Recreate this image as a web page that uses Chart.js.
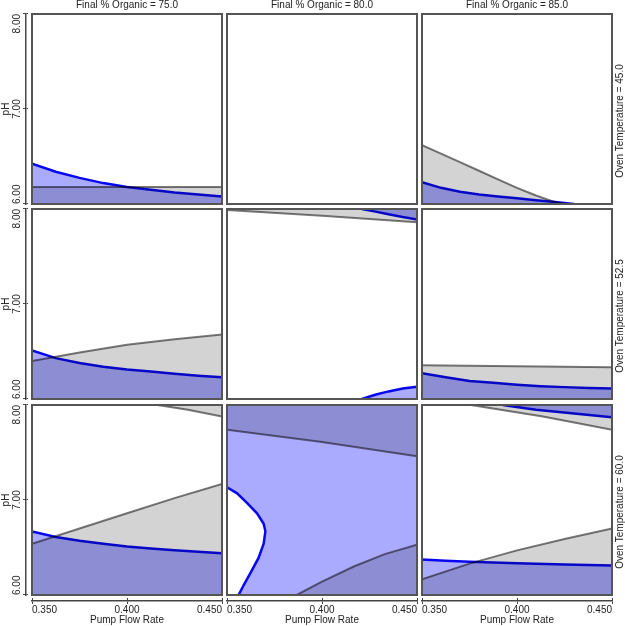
<!DOCTYPE html>
<html><head><meta charset="utf-8">
<script src="https://cdn.jsdelivr.net/npm/chart.js@4.4.1/dist/chart.umd.min.js"></script>
<style>
html,body{margin:0;padding:0;background:#fff;}
#root{position:relative;width:625px;height:626px;overflow:hidden;font-family:"Liberation Sans",Arial,sans-serif;background:#fff;}
canvas{display:block;position:absolute;}
.frame{position:absolute;box-sizing:border-box;border:2px solid #555;pointer-events:none;}
.strip{position:absolute;font-size:10px;line-height:12px;color:#222;text-align:center;white-space:nowrap;}
</style></head><body><div id="root"></div>
<script>
// ---------- facet levels, ticks, titles ----------
const organicLevels = ['75.0', '80.0', '85.0'];
const ovenTemps = ['45.0', '52.5', '60.0'];
const xTickValues = [0.35, 0.40, 0.45];
const xTickLabels = ['0.350', '0.400', '0.450'];
const yTickValues = [6, 7, 8];
const yTickLabels = ['6.00', '7.00', '8.00'];
const xTitle = 'Pump Flow Rate';
const yTitle = 'pH';
const xRange = [0.35, 0.45];
const yRange = [6, 8];

// ---------- contour boundaries [pump flow rate, pH] ----------
// Oven 45.0
const t45o75Gray = [[0.35, 6.18], [0.45, 6.18]];
const t45o75Blue = [[0.35, 6.425], [0.3625, 6.34], [0.375, 6.275], [0.3875, 6.22], [0.40, 6.18], [0.4125, 6.15], [0.425, 6.12], [0.4375, 6.10], [0.45, 6.08]];
const t45o85Gray = [[0.35, 6.62], [0.36, 6.53], [0.37, 6.44], [0.38, 6.35], [0.39, 6.26], [0.40, 6.17], [0.41, 6.09], [0.42, 6.02], [0.425, 6.0]];
const t45o85Blue = [[0.35, 6.23], [0.36, 6.17], [0.37, 6.13], [0.38, 6.10], [0.39, 6.08], [0.40, 6.06], [0.41, 6.04], [0.42, 6.02], [0.43, 6.0]];
// Oven 52.5
const t52o75Gray = [[0.35, 6.40], [0.375, 6.49], [0.40, 6.57], [0.425, 6.63], [0.45, 6.68]];
const t52o75Blue = [[0.35, 6.51], [0.3625, 6.43], [0.375, 6.38], [0.3875, 6.34], [0.40, 6.31], [0.4125, 6.29], [0.425, 6.265], [0.4375, 6.245], [0.45, 6.23]];
const t52o80GrayTop = [[0.35, 7.99], [0.40, 7.93], [0.45, 7.86]];
const t52o80BlueTop = [[0.421, 8.0], [0.4275, 7.975], [0.435, 7.945], [0.4425, 7.915], [0.45, 7.89]];
const t52o80BlueLow = [[0.421, 6.0], [0.428, 6.045], [0.435, 6.08], [0.4425, 6.11], [0.45, 6.13]];
const t52o85Gray = [[0.35, 6.355], [0.40, 6.345], [0.45, 6.335]];
const t52o85Blue = [[0.35, 6.27], [0.3625, 6.23], [0.375, 6.19], [0.3875, 6.17], [0.40, 6.15], [0.4125, 6.135], [0.425, 6.125], [0.4375, 6.115], [0.45, 6.11]];
// Oven 60.0
const t60o75GrayTop = [[0.416, 8.0], [0.432, 7.95], [0.45, 7.88]];
const t60o75GrayLow = [[0.35, 6.54], [0.375, 6.70], [0.40, 6.86], [0.425, 7.02], [0.45, 7.17]];
const t60o75Blue = [[0.35, 6.67], [0.3625, 6.61], [0.375, 6.57], [0.3875, 6.54], [0.40, 6.51], [0.4125, 6.49], [0.425, 6.47], [0.4375, 6.455], [0.45, 6.44]];
const t60o80GrayTop = [[0.35, 7.74], [0.40, 7.61], [0.45, 7.46]];
const t60o80GrayLow = [[0.3867, 6.0], [0.40, 6.14], [0.4167, 6.30], [0.433, 6.43], [0.45, 6.53]];
// blue contour enclosing the white (passing) pocket on the left
const t60o80BlueContour = [[0.3561, 6.0], [0.3588, 6.105], [0.3623, 6.23], [0.3666, 6.39], [0.3693, 6.54], [0.3702, 6.67], [0.3693, 6.75], [0.3658, 6.86], [0.3605, 6.97], [0.3553, 7.07], [0.35, 7.134]];
const t60o85GrayTop = [[0.3758, 8.0], [0.4136, 7.88], [0.45, 7.74]];
const t60o85BlueTop = [[0.3925, 8.0], [0.41, 7.95], [0.43, 7.91], [0.45, 7.87]];
const t60o85GrayLow = [[0.35, 6.165], [0.375, 6.33], [0.40, 6.47], [0.425, 6.59], [0.45, 6.70]];
const t60o85BlueLow = [[0.35, 6.375], [0.3625, 6.36], [0.375, 6.35], [0.40, 6.335], [0.425, 6.32], [0.45, 6.31]];

// ---------- styles ----------
const FONT = '"Liberation Sans", Arial, sans-serif';
const TEXT = '#222';
const AXIS = '#444';
const BLUE_LINE = 'rgb(8,8,240)';
const GRAY_LINE = 'rgb(122,122,122)';
const BLUE_FILL = 'rgb(170,170,255)';
const GRAY_FILL = 'rgb(211,211,211)';

const colLeft = [32, 227, 422];
const rowTop = [14, 209, 405];
const PW = 190, PH = 190;

const root = document.getElementById('root');
function addCanvas(left, top, w, h) {
  const c = document.createElement('canvas');
  c.width = w; c.height = h;
  c.style.left = left + 'px'; c.style.top = top + 'px';
  c.style.width = w + 'px'; c.style.height = h + 'px';
  root.appendChild(c);
  return c;
}
const toXY = arr => arr.map(([x, y]) => ({x, y}));

function curve(arr, kind, side, opts) {
  const blue = kind === 'blue';
  return Object.assign({
    kind: kind,
    data: toXY(arr),
    borderColor: blue ? BLUE_LINE : GRAY_LINE,
    borderWidth: blue ? 2.5 : 2,
    backgroundColor: blue ? BLUE_FILL : GRAY_FILL,
    fill: side === 'below' ? {value: yRange[0]} : side === 'above' ? {value: yRange[1]} : false,
    pointRadius: 0, tension: 0
  }, opts || {});
}

// white pocket: split the contour at its right-most point into two fill pieces
function pocketDatasets(contour) {
  let apex = 0;
  contour.forEach((p, i) => { if (p[0] > contour[apex][0]) apex = i; });
  const lower = contour.slice(0, apex + 1);
  const upper = contour.slice(apex).reverse();
  const fillA = [[xRange[0], yRange[0]], ...lower, [contour[apex][0], yRange[1]], [xRange[1], yRange[1]]];
  // small overlap with fillA (same opaque colour) so no seam shows
  const fillB = [...upper, [contour[apex][0] + 0.002, contour[apex][1]]];
  return [
    curve(contour, 'blue', 'none'),
    curve(fillA, 'blue', 'below', {borderWidth: 0}),
    curve(fillB, 'blue', 'above', {borderWidth: 0})
  ];
}

// gray sets first (drawn last, multiplied over blue), blue sets after (drawn first)
const panelSets = [
  [
    [curve(t45o75Gray, 'gray', 'below'), curve(t45o75Blue, 'blue', 'below')],
    [],
    [curve(t45o85Gray, 'gray', 'below'), curve(t45o85Blue, 'blue', 'below')]
  ],
  [
    [curve(t52o75Gray, 'gray', 'below'), curve(t52o75Blue, 'blue', 'below')],
    [curve(t52o80GrayTop, 'gray', 'above'), curve(t52o80BlueTop, 'blue', 'above'), curve(t52o80BlueLow, 'blue', 'below')],
    [curve(t52o85Gray, 'gray', 'below'), curve(t52o85Blue, 'blue', 'below')]
  ],
  [
    [curve(t60o75GrayTop, 'gray', 'above'), curve(t60o75GrayLow, 'gray', 'below'), curve(t60o75Blue, 'blue', 'below')],
    [curve(t60o80GrayTop, 'gray', 'above'), curve(t60o80GrayLow, 'gray', 'below'), ...pocketDatasets(t60o80BlueContour)],
    [curve(t60o85GrayTop, 'gray', 'above'), curve(t60o85GrayLow, 'gray', 'below'), curve(t60o85BlueTop, 'blue', 'above'), curve(t60o85BlueLow, 'blue', 'below')]
  ]
];

// blue layers paint normally, gray layers multiply over them (overlap gets darker)
function modeFor(chart, idx) {
  const ds = chart.data.datasets[idx];
  return ds && ds.kind === 'gray' ? 'multiply' : 'source-over';
}
const blend = {
  id: 'blend',
  beforeDatasetsDraw(ch) {
    const n = ch.data.datasets.length;
    ch.ctx.save();
    ch.ctx.globalCompositeOperation = modeFor(ch, n - 1);
  },
  afterDatasetDraw(ch, args) {
    ch.ctx.globalCompositeOperation = modeFor(ch, args.index - 1);
  },
  afterDatasetsDraw(ch) { ch.ctx.restore(); }
};

const base = {
  responsive: false, animation: false, events: [], devicePixelRatio: 1,
  plugins: {legend: {display: false}, tooltip: {enabled: false}, title: {display: false}}
};

// ---------- panels ----------
for (let r = 0; r < 3; r++) {
  for (let c = 0; c < 3; c++) {
    const cv = addCanvas(colLeft[c], rowTop[r], PW, PH);
    new Chart(cv, {
      type: 'line',
      data: {datasets: panelSets[r][c]},
      options: Object.assign({}, base, {
        layout: {padding: 0},
        plugins: Object.assign({}, base.plugins, {filler: {drawTime: 'beforeDatasetDraw', propagate: false}}),
        scales: {
          x: {type: 'linear', display: false, min: xRange[0], max: xRange[1]},
          y: {type: 'linear', display: false, min: yRange[0], max: yRange[1]}
        }
      }),
      plugins: [blend]
    });
    const f = document.createElement('div');
    f.className = 'frame';
    f.style.left = (colLeft[c] - 1) + 'px'; f.style.top = (rowTop[r] - 1) + 'px';
    f.style.width = (PW + 2) + 'px'; f.style.height = (PH + 2) + 'px';
    root.appendChild(f);
  }
}

function axisScale(range, vals, labels, title, position, size) {
  return {
    type: 'linear', position: position, min: range[0], max: range[1],
    afterBuildTicks: s => { s.ticks = vals.map(v => ({value: v})); },
    afterFit: s => { s.height = size; },
    ticks: {align: 'inner', autoSkip: false, maxRotation: 0, minRotation: 0, padding: 0,
      color: TEXT, font: {family: FONT, size: 10}, callback: (v, i) => labels[i]},
    grid: {display: true, drawOnChartArea: true, drawTicks: true, tickLength: 3, color: AXIS, tickColor: AXIS, lineWidth: 1},
    border: {display: true, color: AXIS, width: 1.5},
    title: {display: true, text: title, color: TEXT, font: {family: FONT, size: 10}, padding: 0}
  };
}

// ---------- bottom x axes ----------
for (let c = 0; c < 3; c++) {
  const cv = addCanvas(colLeft[c] - 1, 598, PW + 2, 28);
  new Chart(cv, {
    type: 'line', data: {datasets: []},
    options: Object.assign({}, base, {
      layout: {padding: {left: 1, right: 1, top: 0, bottom: 0}},
      scales: {
        x: axisScale(xRange, xTickValues, xTickLabels, xTitle, 'bottom', 25),
        y: {type: 'linear', display: false, min: 0, max: 1}
      }
    })
  });
}

// ---------- left y axes (drawn horizontally, rotated) ----------
for (let r = 0; r < 3; r++) {
  const cv = addCanvas(0, rowTop[r] - 1 + PH + 2, PH + 2, 28);
  cv.style.transformOrigin = '0 0';
  cv.style.transform = 'rotate(-90deg)';
  new Chart(cv, {
    type: 'line', data: {datasets: []},
    options: Object.assign({}, base, {
      layout: {padding: {left: 1, right: 1, top: 0, bottom: 0}},
      scales: {
        x: axisScale(yRange, yTickValues, yTickLabels, yTitle, 'top', 26),
        y: {type: 'linear', display: false, min: 0, max: 1}
      }
    })
  });
}

// ---------- facet strips ----------
organicLevels.forEach((o, c) => {
  const d = document.createElement('div');
  d.className = 'strip';
  d.textContent = 'Final % Organic = ' + o;
  d.style.left = colLeft[c] + 'px'; d.style.width = PW + 'px'; d.style.top = '-1px';
  root.appendChild(d);
});
ovenTemps.forEach((t, r) => {
  const d = document.createElement('div');
  d.className = 'strip';
  d.textContent = 'Oven Temperature = ' + t;
  d.style.width = '160px';
  d.style.left = (620 - 80) + 'px';
  d.style.top = (rowTop[r] + PH / 2 + 11.5 - 6) + 'px';
  d.style.transform = 'rotate(-90deg)';
  root.appendChild(d);
});
</script></body></html>
